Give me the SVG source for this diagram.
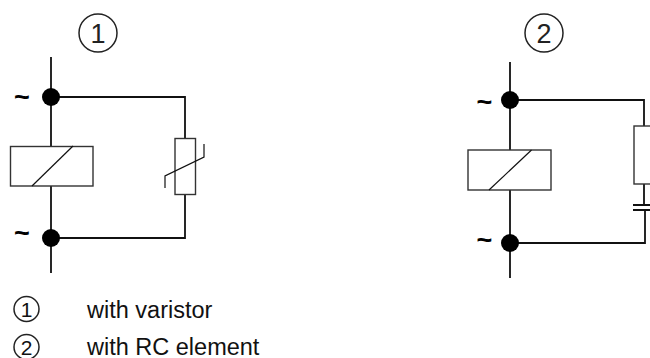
<svg xmlns="http://www.w3.org/2000/svg" width="650" height="358" viewBox="0 0 650 358">
<style>
.w{fill:none;stroke:#111;stroke-width:1.8}
.t{fill:none;stroke:#222;stroke-width:1.5}
.b{fill:#fff;stroke:#333;stroke-width:1.4}
.c{fill:none;stroke:#111;stroke-width:1.2}
.d{fill:#000}
text{font-family:"Liberation Sans",Arial,sans-serif;fill:#222}
.n{font-size:27px;text-anchor:middle}
.s{font-size:27px;text-anchor:middle;fill:#000;font-weight:bold}
.l{font-size:23.500px;fill:#111}
.k{font-size:21px;text-anchor:middle;fill:#111}
</style>
<g id="connectors">
<path class="w" d="M51 57V146M51 186V273M51 97H185V139M185 195V238H51"/>
<path class="w" d="M510 62V150M510 190V278M510 100H644V126M644 184V205M645 210V243H510"/>
</g>
<g id="label-1"><circle class="t" cx="98" cy="33" r="19"/><text class="n" x="98" y="42.500">1</text></g>
<g id="label-2"><circle class="t" cx="544" cy="33" r="19"/><text class="n" x="544" y="42.500">2</text></g>
<g id="junction-1a"><circle class="d" cx="51" cy="97" r="9"/><text class="s" x="22" y="106">~</text></g>
<g id="junction-1b"><circle class="d" cx="51" cy="238" r="9"/><text class="s" x="22" y="242">~</text></g>
<g id="junction-2a"><circle class="d" cx="510" cy="100" r="9"/><text class="s" x="484.500" y="111">~</text></g>
<g id="junction-2b"><circle class="d" cx="510" cy="243" r="9"/><text class="s" x="484.500" y="249">~</text></g>
<g id="relay-1"><rect class="b" x="10.500" y="146.500" width="82.500" height="39.500"/><path class="c" d="M32 186L73 146"/></g>
<g id="relay-2"><rect class="b" x="468" y="150" width="83" height="40"/><path class="c" d="M489 190L531.500 150"/></g>
<g id="varistor"><rect class="b" x="175" y="138.500" width="20.500" height="56"/><path class="c" d="M165 188V176L204 157V144"/></g>
<g id="rc-element"><rect class="b" x="634" y="126" width="30" height="58"/><path class="w" d="M633 205H660M633 210H660"/></g>
<g id="legend">
<circle class="t" cx="26.500" cy="309" r="12.500"/><text class="k" x="26.500" y="316.500">1</text>
<text class="l" x="87" y="318">with varistor</text>
<circle class="t" cx="26.500" cy="347" r="12.500"/><text class="k" x="26.500" y="354.500">2</text>
<text class="l" x="87" y="354.500">with RC element</text>
</g>
</svg>
